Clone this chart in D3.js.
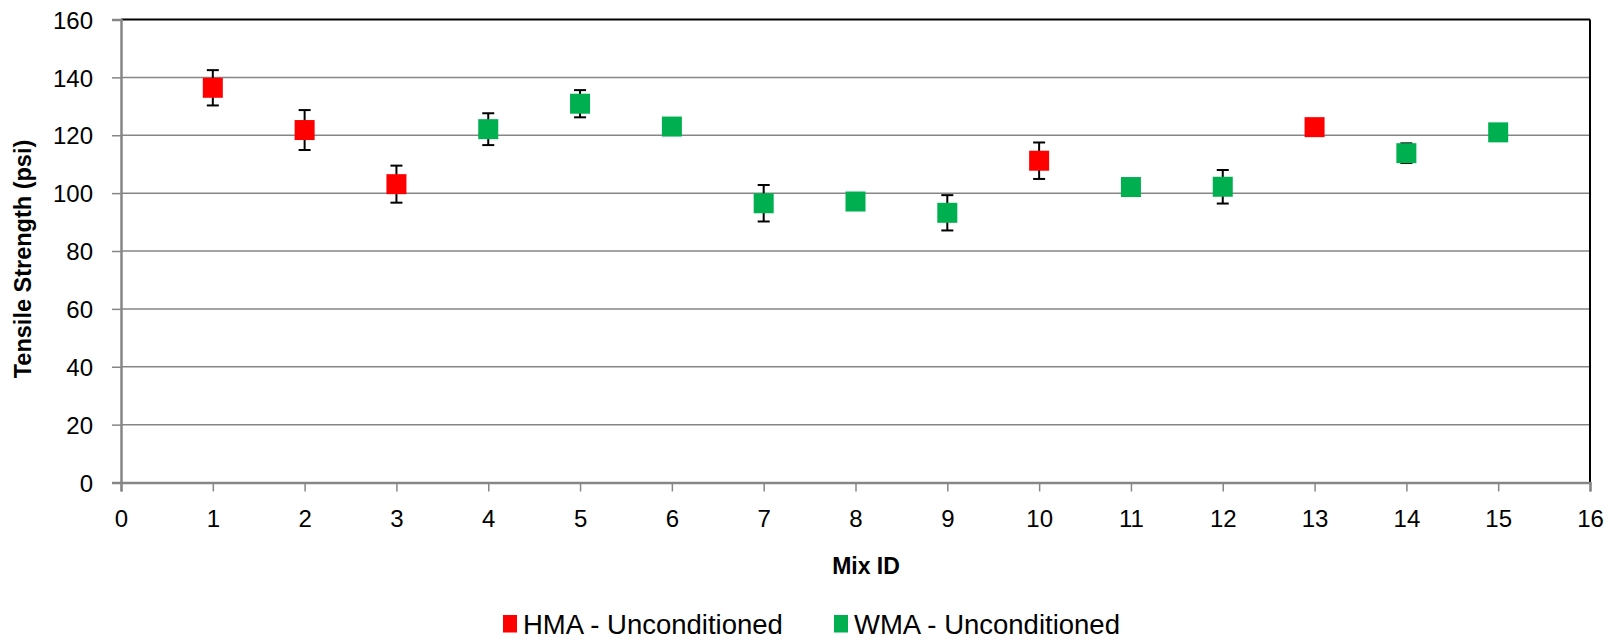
<!DOCTYPE html>
<html>
<head>
<meta charset="utf-8">
<script src="https://cdn.jsdelivr.net/npm/d3@7"></script>
<style>
  html, body { margin: 0; padding: 0; background: #fff; }
  svg { display: block; }
  text { font-family: "Liberation Sans", Arial, sans-serif; fill: #000; }
</style>
</head>
<body>
<svg id="chart" width="1618" height="640"></svg>
<script>
// ---- data ----
const mixIds = [1, 2, 3, 4, 5, 6, 7, 8, 9, 10, 11, 12, 13, 14, 15];
const strength = [136.4, 121.8, 103.1, 122.1, 130.9, 123.0, 96.5, 97.1, 93.2, 111.2, 102.1, 102.2, 122.8, 113.8, 121.0];
const errors = [6.1, 6.9, 6.4, 5.5, 4.7, 1.5, 6.3, 1.5, 6.1, 6.3, 1.5, 5.8, 1.5, 3.4, 1.5];
const mixType = ["HMA", "HMA", "HMA", "WMA", "WMA", "WMA", "WMA", "WMA", "WMA", "HMA", "WMA", "WMA", "HMA", "WMA", "WMA"];
const seriesNames = ["HMA - Unconditioned", "WMA - Unconditioned"];
const seriesKeys = ["HMA", "WMA"];
const seriesColors = ["#FF0000", "#00B050"];
const xTicks = d3.range(0, 17, 1);
const yTicks = [0, 20, 40, 60, 80, 100, 120, 140, 160];

// ---- layout ----
const svg = d3.select("#chart");
const pL = 121, pR = 1590, pT = 19.5, pB = 482.5;
const x = d3.scaleLinear().domain([0, 16]).range([pL, pR]);
const y = d3.scaleLinear().domain([0, 160]).range([pB, pT]);
const color = d3.scaleOrdinal().domain(seriesKeys).range(seriesColors);
const gridColor = "#868686";
const tickFont = "24px";

// gridlines
svg.append("g").selectAll("line").data(yTicks.filter(d => d > 0 && d < 160)).join("line")
  .attr("x1", pL).attr("x2", pR)
  .attr("y1", d => y(d)).attr("y2", d => y(d))
  .attr("stroke", gridColor).attr("stroke-width", 1.5);

// top & right border (black)
svg.append("line").attr("x1", pL).attr("x2", pR).attr("y1", pT).attr("y2", pT)
  .attr("stroke", "#000").attr("stroke-width", 2);
svg.append("line").attr("x1", pR).attr("x2", pR).attr("y1", pT).attr("y2", pB)
  .attr("stroke", "#000").attr("stroke-width", 2);

// y axis
const yAxis = svg.append("g").attr("transform", `translate(${pL},0)`)
  .call(d3.axisLeft(y).tickValues(yTicks).tickSize(9).tickPadding(19).tickFormat(d3.format("d")));
yAxis.select(".domain").attr("stroke", gridColor).attr("stroke-width", 2.5);
yAxis.selectAll(".tick line").attr("stroke", gridColor).attr("stroke-width", 1.5);
yAxis.selectAll(".tick text").style("font-size", tickFont).attr("dy", "0.36em")
  .style("font-family", '"Liberation Sans", Arial, sans-serif').attr("fill", "#000");

// x axis
const xAxis = svg.append("g").attr("transform", `translate(0,${pB})`)
  .call(d3.axisBottom(x).tickValues(xTicks).tickSize(9).tickPadding(18).tickFormat(d3.format("d")));
xAxis.select(".domain").attr("stroke", gridColor).attr("stroke-width", 2.5);
xAxis.selectAll(".tick line").attr("stroke", gridColor).attr("stroke-width", 1.5);
xAxis.selectAll(".tick text").style("font-size", tickFont)
  .style("font-family", '"Liberation Sans", Arial, sans-serif').attr("fill", "#000");

// axis titles
svg.append("text").attr("x", 866).attr("y", 574).attr("text-anchor", "middle")
  .style("font-size", "23px").style("font-weight", "bold").text("Mix ID");
svg.append("text").attr("transform", `translate(31,${(pT + pB) / 2 + 8}) rotate(-90)`)
  .attr("text-anchor", "middle").style("font-size", "23.5px").style("font-weight", "bold")
  .text("Tensile Strength (psi)");

// data
const data = mixIds.map((m, i) => ({ id: m, v: strength[i], e: errors[i], t: mixType[i] }));
const capW = 12, sq = 20;

const eb = svg.append("g").attr("stroke", "#000").attr("stroke-width", 2);
data.forEach(d => {
  eb.append("line").attr("x1", x(d.id)).attr("x2", x(d.id))
    .attr("y1", y(d.v + d.e)).attr("y2", y(d.v - d.e));
  eb.append("line").attr("x1", x(d.id) - capW / 2).attr("x2", x(d.id) + capW / 2)
    .attr("y1", y(d.v + d.e)).attr("y2", y(d.v + d.e));
  eb.append("line").attr("x1", x(d.id) - capW / 2).attr("x2", x(d.id) + capW / 2)
    .attr("y1", y(d.v - d.e)).attr("y2", y(d.v - d.e));
});

svg.append("g").selectAll("rect").data(data).join("rect")
  .attr("x", d => x(d.id) - sq / 2).attr("y", d => y(d.v) - sq / 2)
  .attr("width", sq).attr("height", sq)
  .attr("fill", d => color(d.t));

// legend
const legX = [503, 834];
const lg = svg.append("g");
seriesKeys.forEach((k, i) => {
  lg.append("rect").attr("x", legX[i]).attr("y", 615).attr("width", 14).attr("height", 17.5)
    .attr("fill", color(k));
  lg.append("text").attr("x", legX[i] + 20).attr("y", 624).attr("dy", "0.36em")
    .style("font-size", "27.5px").text(seriesNames[i]);
});
</script>
</body>
</html>
